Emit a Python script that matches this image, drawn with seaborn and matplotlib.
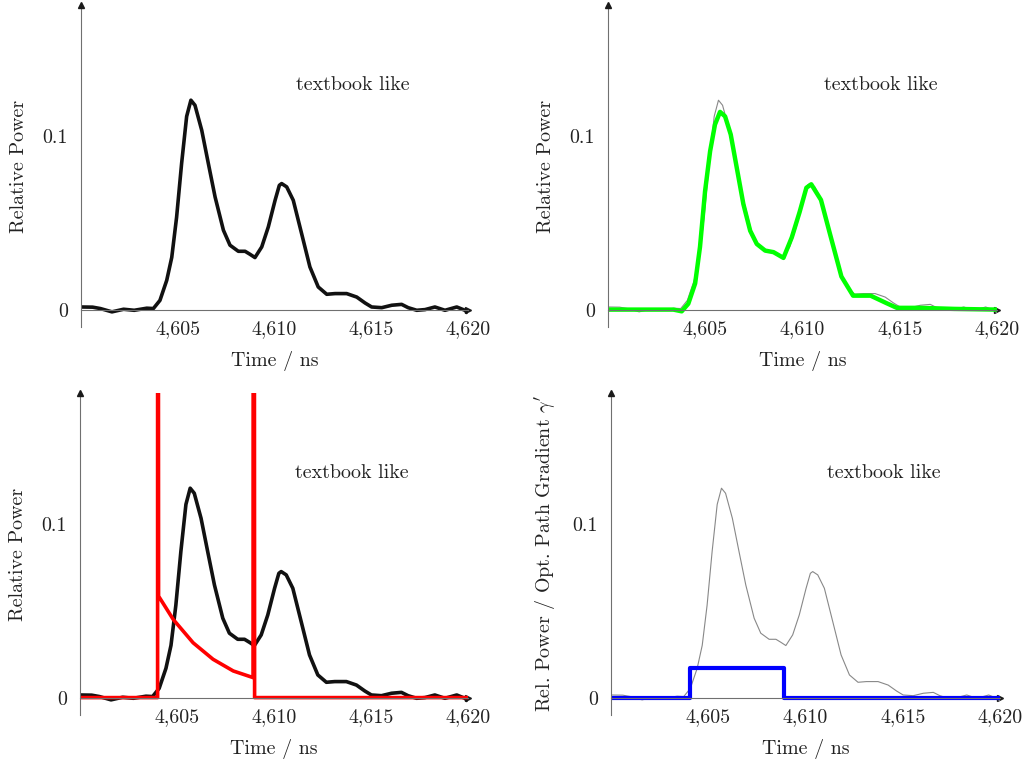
import numpy as np
import pandas as pd
import matplotlib
matplotlib.use('Agg')
import matplotlib.pyplot as plt
import seaborn as sns

time_ns = [4600.0, 4600.6, 4601.0, 4601.6, 4602.2, 4602.75, 4603.4, 4603.74,
           4604.08, 4604.43, 4604.69, 4604.94, 4605.2, 4605.46, 4605.68, 4605.89,
           4606.24, 4606.58, 4606.93, 4607.36, 4607.7, 4608.13, 4608.48, 4608.73,
           4608.99, 4609.34, 4609.68, 4610.03, 4610.25, 4610.37, 4610.63, 4610.97,
           4611.4, 4611.83, 4612.26, 4612.7, 4613.13, 4613.73, 4614.25, 4614.68,
           4615.02, 4615.54, 4616.06, 4616.57, 4616.91, 4617.35, 4617.78, 4618.29,
           4618.81, 4619.42, 4619.84, 4620.0]
power = [0.0015, 0.0014, 0.0006, -0.0013, 0.0002, -0.0004, 0.0008, 0.0006,
         0.0053, 0.0168, 0.030, 0.053, 0.084, 0.111, 0.1203, 0.1174,
         0.103, 0.084, 0.0647, 0.0456, 0.037, 0.0335, 0.0335, 0.0318,
         0.0299, 0.036, 0.0475, 0.0628, 0.0714, 0.0724, 0.0705, 0.0628,
         0.0437, 0.0245, 0.013, 0.0088, 0.0092, 0.0092, 0.0072, 0.0038,
         0.0015, 0.0011, 0.0025, 0.003, 0.0011, -0.0004, 0.0, 0.0015,
         -0.0004, 0.0015, -0.0004, -0.002]

# fitted pulse (green)
fit_time = [4600.0, 4601.5, 4602.68, 4603.36, 4603.79, 4604.13, 4604.48, 4604.73,
            4604.99, 4605.25, 4605.5, 4605.76, 4606.02, 4606.31, 4606.62, 4606.96,
            4607.31, 4607.65, 4608.08, 4608.51, 4609.02, 4609.45, 4609.85, 4610.2,
            4610.45, 4610.95, 4611.4, 4612.0, 4612.6, 4613.5, 4614.3, 4614.85,
            4616.05, 4617.8, 4620.0]
fit_power = [0.0, 0.0, 0.0, 0.0, -0.001, 0.0034, 0.015, 0.036,
             0.068, 0.091, 0.1063, 0.1136, 0.111, 0.1006, 0.0815, 0.0606,
             0.0453, 0.0377, 0.0339, 0.033, 0.0297, 0.0415, 0.056, 0.070,
             0.072, 0.063, 0.044, 0.019, 0.008, 0.008, 0.0038, 0.001,
             0.001, 0.0004, 0.0]

# red model: spikes (clipped) with decaying part in between
spike = 1.0
red_time = [4600.0, 4604.0, 4604.0, 4604.05, 4604.8, 4605.83, 4606.86, 4607.9,
            4608.92, 4608.95, 4609.0, 4620.0]
red_value = [0.0, 0.0, spike, 0.0583, 0.045, 0.0315, 0.022, 0.0153,
             0.0115, spike, 0.0, 0.0]

# blue: optical path gradient step
blue_time = [4600.0, 4604.05, 4604.05, 4608.9, 4608.9, 4620.0]
blue_value = [0.0, 0.0, 0.017, 0.017, 0.0, 0.0]

x_ticks = [4605, 4610, 4615, 4620]
x_ticklabels = ['4,605', '4,610', '4,615', '4,620']
y_ticks = [0, 0.1]
y_ticklabels = ['0', '0.1']

sns.set_theme(style='white')
plt.rcParams['font.family'] = ['cmr10', 'DejaVu Serif']
plt.rcParams['mathtext.fontset'] = 'cm'
plt.rcParams['axes.formatter.use_mathtext'] = True
plt.rcParams['axes.unicode_minus'] = False
plt.rcParams['lines.solid_joinstyle'] = 'round'
plt.rcParams['lines.solid_capstyle'] = 'butt'

fig = plt.figure(figsize=(10.27, 7.65), dpi=100)
W, H = 1027, 765
boxes = [(81, 327, 387), (608, 327, 389), (80, 715, 388), (611, 715, 389)]
axes = []
for left, bottom, width in boxes:
    axes.append(fig.add_axes([left / W, 1 - bottom / H, width / W, 322 / H]))

axis_grey = '#707070'
fs = 14.4


def style_axis(ax, ylabel):
    ax.set_xlim(4600, 4620)
    ax.set_ylim(-0.01, 0.175)
    ax.spines['top'].set_visible(False)
    ax.spines['right'].set_visible(False)
    ax.spines['bottom'].set_position(('data', 0))
    for s in ['left', 'bottom']:
        ax.spines[s].set_color(axis_grey)
        ax.spines[s].set_linewidth(0.8)
    ax.set_xticks(x_ticks)
    ax.set_xticklabels(x_ticklabels)
    ax.set_yticks(y_ticks)
    ax.set_yticklabels(y_ticklabels)
    ax.tick_params(direction='inout', length=5, width=0.6, color=axis_grey,
                   labelsize=fs, labelcolor='#222222')
    ax.tick_params(axis='x', pad=5)
    ax.tick_params(axis='y', pad=7)
    ax.set_xlabel('Time / ns', fontsize=fs, color='#222222')
    ax.set_ylabel(ylabel, fontsize=fs, color='#222222')
    ax.xaxis.set_label_coords(0.5, -0.075)
    ax.yaxis.set_label_coords(-0.137, 0.5)
    ax.plot(0, 1, marker='^', color='k', ms=4, transform=ax.transAxes, clip_on=False, zorder=5)
    ax.plot(1, 0, marker='>', color='k', ms=4, transform=ax.get_yaxis_transform(),
            clip_on=False, zorder=1)
    ax.text(4611.1, 0.129, 'textbook like', fontsize=fs, color='#222222',
            ha='left', va='center')
    ax.grid(False)


meas = pd.DataFrame({'t': time_ns, 'p': power})
fit = pd.DataFrame({'t': fit_time, 'p': fit_power})
red = pd.DataFrame({'t': red_time, 'p': red_value})
blue = pd.DataFrame({'t': blue_time, 'p': blue_value})

# top left: measured pulse
sns.lineplot(data=meas, x='t', y='p', ax=axes[0], color='#111111', lw=2.6,
             estimator=None, sort=False)
# top right: fit on top of measurement
sns.lineplot(data=meas, x='t', y='p', ax=axes[1], color='#888888', lw=0.8,
             estimator=None, sort=False)
sns.lineplot(data=fit, x='t', y='p', ax=axes[1], color='#00ff00', lw=3.2,
             estimator=None, sort=False)
# bottom left: measurement with red model
sns.lineplot(data=meas, x='t', y='p', ax=axes[2], color='#111111', lw=2.6,
             estimator=None, sort=False)
sns.lineplot(data=red, x='t', y='p', ax=axes[2], color='#ff0000', lw=2.6,
             estimator=None, sort=False)
# bottom right: optical path gradient
sns.lineplot(data=meas, x='t', y='p', ax=axes[3], color='#888888', lw=0.8,
             estimator=None, sort=False)
sns.lineplot(data=blue, x='t', y='p', ax=axes[3], color='#0000ff', lw=3.0,
             estimator=None, sort=False)

style_axis(axes[0], 'Relative Power')
style_axis(axes[1], 'Relative Power')
style_axis(axes[2], 'Relative Power')
style_axis(axes[3], r"Rel. Power / Opt. Path Gradient $\gamma'$")

fig.savefig('out.png', dpi=100)
